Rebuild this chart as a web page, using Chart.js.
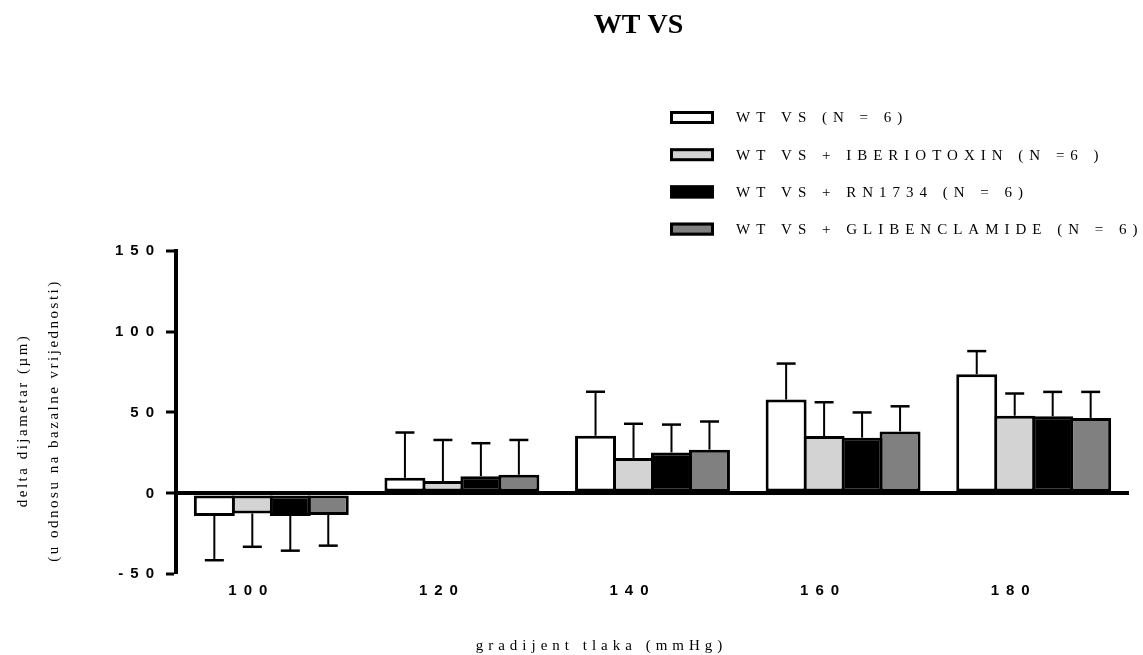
<!DOCTYPE html>
<html>
<head>
<meta charset="utf-8">
<title>WT VS</title>
<script src="https://cdn.jsdelivr.net/npm/chart.js@4.4.1/dist/chart.umd.min.js"></script>
<style>
  html, body { margin: 0; padding: 0; background: #fff; }
  #wrap { width: 1143px; height: 655px; }
</style>
</head>
<body>
<div id="wrap"><canvas id="vsChart"></canvas></div>
<script>
// pressure steps (mmHg) and y tick values
const pressures = [100, 120, 140, 160, 180];
const yTicks = [-50, 0, 50, 100, 150];

const seriesNames = [
  'WT VS (N = 6)',
  'WT VS + IBERIOTOXIN (N =6 )',
  'WT VS + RN1734 (N = 6)',
  'WT VS + GLIBENCLAMIDE (N = 6)',
];
const seriesColors = ['#ffffff', '#d3d3d3', '#000000', '#808080'];

// mean delta diameter (um) and one-sided error
const wtVs = [-14, 9.6, 35.6, 58, 73.6];
const wtVsErr = [27.3, 28, 27.2, 22.2, 14.3];
const iberiotoxin = [-12.4, 7.6, 21.9, 35.4, 48];
const iberiotoxinErr = [20.6, 25.4, 21.1, 20.9, 13.7];
const rn1734 = [-14, 10.6, 25.3, 34.4, 47.6];
const rn1734Err = [21.4, 20.4, 17.2, 15.6, 15.1];
const glibenclamide = [-13.3, 11.5, 27, 38.3, 46.6];
const glibenclamideErr = [19, 21.5, 17.4, 15.5, 16.1];

const seriesValues = [wtVs, iberiotoxin, rn1734, glibenclamide];
const seriesErrors = [wtVsErr, iberiotoxinErr, rn1734Err, glibenclamideErr];

/**
 * Wrap a drawing method so its text gets letter spacing (and an optional shift)
 */
function spaced(chart, target, method, spacing, dx = 0, dy = 0) {
  if (!target || target['__spaced_' + method]) return;
  const original = target[method];
  target['__spaced_' + method] = true;
  target[method] = function (...args) {
    const c = chart.ctx;
    c.save();
    c.letterSpacing = spacing;
    c.translate(dx, dy);
    const out = original.apply(this, args);
    c.restore();
    return out;
  };
}

const letterSpacingPlugin = {
  id: 'letterSpacing',
  beforeLayout(chart) {
    const {x, y} = chart.scales;
    spaced(chart, x, 'update', '7px');
    spaced(chart, y, 'update', '7px');
    spaced(chart, x, 'drawLabels', '7px');
    spaced(chart, y, 'drawLabels', '7px');
    spaced(chart, x, 'drawTitle', '5px', -51, 0);
    spaced(chart, y, 'drawTitle', '2.5px', 0, 8);
    spaced(chart, chart.titleBlock, 'draw', '0px', -14, 0);
  },
};

// one-sided error bars, drawn away from zero
const errorBarPlugin = {
  id: 'errorBars',
  afterDatasetsDraw(chart) {
    const {ctx} = chart;
    const yScale = chart.scales.y;
    ctx.save();
    ctx.strokeStyle = '#000';
    chart.data.datasets.forEach((ds, di) => {
      const meta = chart.getDatasetMeta(di);
      meta.data.forEach((bar, i) => {
        const v = ds.data[i].y;
        const end = v + Math.sign(v) * ds.errors[i];
        const y0 = yScale.getPixelForValue(v);
        const y1 = yScale.getPixelForValue(end);
        ctx.lineWidth = 2;
        ctx.beginPath();
        ctx.moveTo(bar.x, y0);
        ctx.lineTo(bar.x, y1);
        ctx.stroke();
        ctx.lineWidth = 2.5;
        ctx.beginPath();
        ctx.moveTo(bar.x - 9.5, y1);
        ctx.lineTo(bar.x + 9.5, y1);
        ctx.stroke();
      });
    });
    ctx.restore();
  },
};

// stacked legend in the upper right, above the plot
const stackedLegendPlugin = {
  id: 'stackedLegend',
  afterDraw(chart, args, opts) {
    const {ctx} = chart;
    const left = chart.width - opts.fromRight;
    ctx.save();
    ctx.font = '15px "Liberation Serif", "Times New Roman", serif';
    ctx.letterSpacing = '6px';
    ctx.textBaseline = 'middle';
    ctx.textAlign = 'left';
    chart.data.datasets.forEach((ds, i) => {
      const cy = opts.top + i * opts.rowGap;
      const bx = left, by = cy - opts.boxHeight / 2;
      ctx.fillStyle = ds.backgroundColor;
      ctx.fillRect(bx, by, opts.boxWidth, opts.boxHeight);
      ctx.strokeStyle = '#000';
      ctx.lineWidth = 3;
      ctx.strokeRect(bx + 1.5, by + 1.5, opts.boxWidth - 3, opts.boxHeight - 3);
      ctx.fillStyle = '#000';
      ctx.fillText(ds.label, left + opts.textGap, cy + 1);
    });
    ctx.restore();
  },
};

function initVsChart() {
  const canvas = document.getElementById('vsChart');

  const datasets = seriesNames.map((name, s) => ({
    label: name,
    data: pressures.map((p, i) => ({x: p, y: seriesValues[s][i]})),
    errors: seriesErrors[s],
    backgroundColor: seriesColors[s],
    borderColor: '#000',
    borderWidth: 3,
    borderSkipped: false,
    categoryPercentage: 0.797,
    barPercentage: 1.079,
  }));

  new Chart(canvas, {
    type: 'bar',
    data: {datasets},
    plugins: [letterSpacingPlugin, errorBarPlugin, stackedLegendPlugin],
    options: {
      responsive: true,
      maintainAspectRatio: false,
      animation: false,
      layout: {padding: {left: 0, right: 14, top: 0, bottom: 0}},
      plugins: {
        legend: {display: false},
        tooltip: {enabled: false},
        title: {
          display: true,
          text: 'WT VS',
          fullSize: false,
          color: '#000',
          font: {family: "'Liberation Serif', 'Times New Roman', serif", size: 28, weight: 'bold'},
          padding: {top: 9, bottom: 208},
        },
        stackedLegend: {
          fromRight: 473,
          top: 117.5,
          rowGap: 37.2,
          boxWidth: 44,
          boxHeight: 13,
          textGap: 66,
        },
      },
      scales: {
        x: {
          type: 'linear',
          offset: false,
          min: 90,
          max: 190,
          afterBuildTicks: (scale) => {
            scale.ticks = pressures.map((v) => ({value: v}));
          },
          afterFit: (scale) => {
            scale.height = 80.7;
          },
          border: {display: false},
          grid: {display: false, drawTicks: false},
          ticks: {
            color: '#000',
            font: {family: "'Liberation Sans', Arial, sans-serif", size: 15, weight: 'bold'},
            padding: 8,
            labelOffset: -20,
            autoSkip: false,
            maxRotation: 0,
            callback: (value) => String(value),
          },
          title: {
            display: true,
            text: 'gradijent tlaka (mmHg)',
            color: '#000',
            font: {family: "'Liberation Serif', 'Times New Roman', serif", size: 15},
            padding: {top: 0, bottom: 0},
          },
        },
        y: {
          min: -50,
          max: 150,
          afterBuildTicks: (scale) => {
            scale.ticks = yTicks.map((v) => ({value: v}));
          },
          afterFit: (scale) => {
            scale.width = 176;
          },
          border: {color: '#000', width: 4, z: 1},
          grid: {
            z: 1,
            color: (c) => (c.tick && c.tick.value === 0 ? '#000' : 'rgba(0,0,0,0)'),
            lineWidth: (c) => (c.tick && c.tick.value === 0 ? 4 : 0),
            drawTicks: true,
            tickLength: 10,
            tickColor: '#000',
            tickWidth: 3,
          },
          ticks: {
            color: '#000',
            font: {family: "'Liberation Sans', Arial, sans-serif", size: 15, weight: 'bold'},
            padding: 5,
          },
          title: {
            display: true,
            text: ['delta dijametar (µm)', '(u odnosu na bazalne vrijednosti)'],
            color: '#000',
            font: {family: "'Liberation Serif', 'Times New Roman', serif", size: 15, lineHeight: 2.07},
            padding: {top: 7.5, bottom: 0},
          },
        },
      },
    },
  });
}

initVsChart();
</script>
</body>
</html>
